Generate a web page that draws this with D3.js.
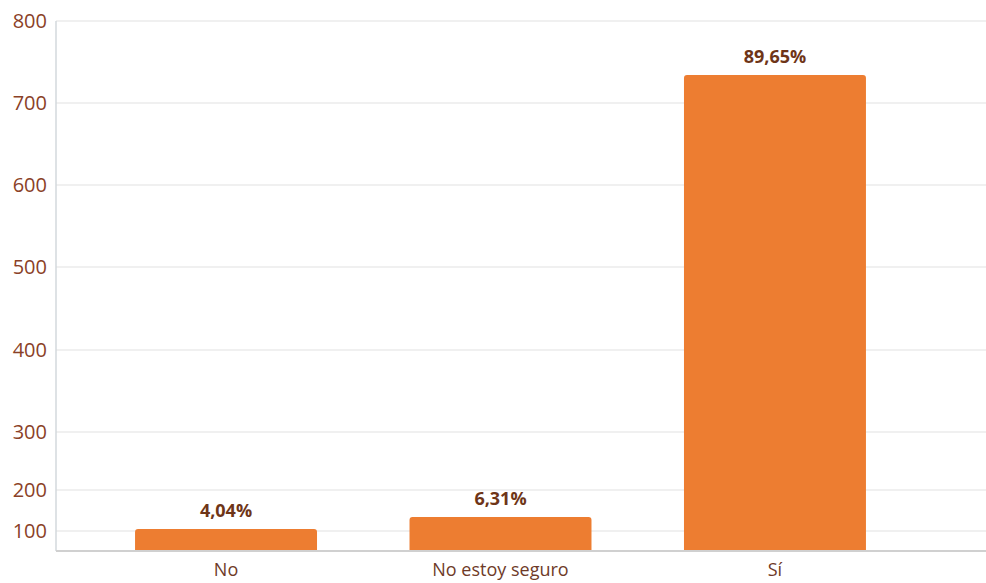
<!DOCTYPE html>
<html><head><meta charset="utf-8">
<script src="https://cdn.jsdelivr.net/npm/d3@7"></script>
<style>
html,body{margin:0;padding:0;background:#fff;}
svg{display:block;font-family:"Open Sans",sans-serif;}
</style></head>
<body>
<svg id="chart" width="986" height="583"></svg>
<script>
const categories = ["No", "No estoy seguro", "Sí"];
const values = [105, 134, 734];
const pctLabels = ["4,04%", "6,31%", "89,65%"];
const tickValues = [100, 200, 300, 400, 500, 600, 700, 800];
const tickDomain = [0, 100, 200, 300, 400, 500, 600, 700, 800];

const svg = d3.select("#chart");
const left = 56, right = 986, baseY = 551;

const y = d3.scaleLinear()
  .domain(tickDomain)
  .range([551, 531, 490, 432, 350, 267, 185, 103, 21]);

const x = d3.scaleBand()
  .domain(categories)
  .range([left, 945])
  .paddingInner(0.337)
  .paddingOuter(0.288);

// gridlines
svg.append("g").selectAll("line").data(tickValues).join("line")
  .attr("x1", left).attr("x2", right)
  .attr("y1", d => y(d)).attr("y2", d => y(d))
  .attr("stroke", "#ebebeb").attr("stroke-width", 1.5);

// y axis line
svg.append("line").attr("x1", left).attr("x2", left)
  .attr("y1", y(800)).attr("y2", baseY)
  .attr("stroke", "#d3d8dc").attr("stroke-width", 1.5);

// y tick labels
svg.append("g").selectAll("text").data(tickValues).join("text")
  .attr("x", 47).attr("y", d => y(d))
  .attr("dy", "0.35em")
  .attr("text-anchor", "end")
  .attr("fill", "#8a4127")
  .attr("font-size", 20)
  .text(d => d);

// bars
const data = categories.map((c, i) => ({c, v: values[i], p: pctLabels[i]}));
svg.append("g").selectAll("path").data(data).join("path")
  .attr("d", d => {
    const x0 = x(d.c), w = x.bandwidth(), y0 = y(d.v), r = 3;
    return `M${x0},${baseY} V${y0 + r} Q${x0},${y0} ${x0 + r},${y0} H${x0 + w - r} Q${x0 + w},${y0} ${x0 + w},${y0 + r} V${baseY} Z`;
  })
  .attr("fill", "#ed7d31");

// baseline
svg.append("line").attr("x1", left).attr("x2", right)
  .attr("y1", baseY).attr("y2", baseY)
  .attr("stroke", "#d0d0d0").attr("stroke-width", 2);

// value labels
svg.append("g").selectAll("text").data(data).join("text")
  .attr("x", d => x(d.c) + x.bandwidth() / 2)
  .attr("y", d => y(d.v) - 12)
  .attr("text-anchor", "middle")
  .attr("font-weight", "bold")
  .attr("font-size", 18)
  .attr("fill", "#6e3518")
  .text(d => d.p);

// category labels
svg.append("g").selectAll("text").data(categories).join("text")
  .attr("x", d => x(d) + x.bandwidth() / 2)
  .attr("y", 576)
  .attr("text-anchor", "middle")
  .attr("font-size", 18)
  .attr("fill", "#6e3a28")
  .text(d => d);
</script>
</body></html>
